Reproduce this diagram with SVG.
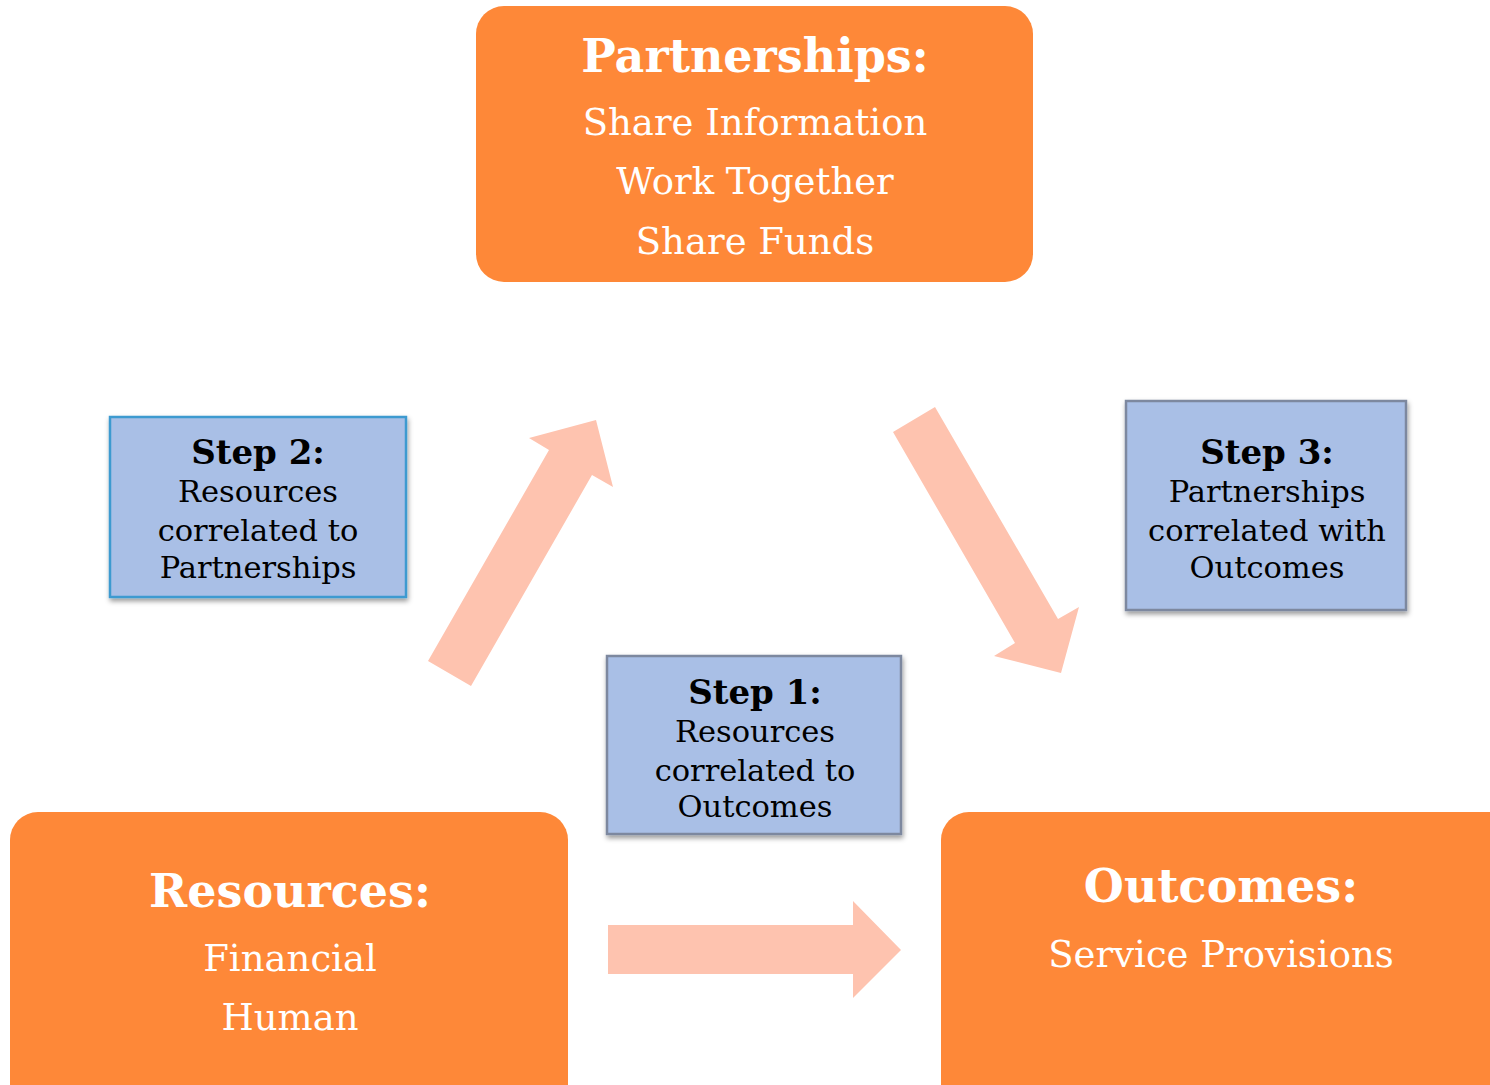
<svg xmlns="http://www.w3.org/2000/svg" width="1490" height="1085" viewBox="0 0 1490 1085">
<defs>
<style>
.big{fill:#FE8838;}
.step{fill:#A9BFE6;stroke-width:2.5;}
.arrow{fill:#FEC3AF;}
text{font-family:"DejaVu Serif","Liberation Serif",serif;text-anchor:middle;}
.wt{fill:#FFFFFF;}
.h1{font-size:46px;font-weight:bold;}
.b1{font-size:37px;}
.sh{font-size:34px;font-weight:bold;fill:#000;}
.sb{font-size:30.5px;fill:#000;}
</style>
<filter id="sh" x="-10%" y="-10%" width="130%" height="130%">
<feDropShadow dx="1" dy="3" stdDeviation="2.5" flood-color="#000" flood-opacity="0.4"/>
</filter>
</defs>
<rect width="1490" height="1085" fill="#FFFFFF"/>
<g id="connectors">
<polygon class="arrow" points="608,925 853,925 853,901 901,950 853,998 853,974 608,974"/>
<polygon class="arrow" points="428,661 549,450 529,438 596,420 613,487 592,475 471,686"/>
<polygon class="arrow" points="893,432 1015,643 994,656 1061,673 1079,607 1058,619 935,407"/>
</g>
<g id="partnerships">
<rect class="big" x="476" y="6" width="557" height="276" rx="28"/>
<text class="wt h1" x="755" y="72">Partnerships:</text>
<text class="wt b1" x="755" y="135">Share Information</text>
<text class="wt b1" x="755" y="194">Work Together</text>
<text class="wt b1" x="755" y="254">Share Funds</text>
</g>
<g id="resources">
<rect class="big" x="10" y="812" width="558" height="300" rx="28"/>
<text class="wt h1" x="290" y="907">Resources:</text>
<text class="wt b1" x="290" y="971">Financial</text>
<text class="wt b1" x="290" y="1030">Human</text>
</g>
<g id="outcomes">
<rect class="big" x="941" y="812" width="580" height="300" rx="28"/>
<text class="wt h1" x="1221" y="902">Outcomes:</text>
<text class="wt b1" x="1221" y="967">Service Provisions</text>
</g>
<g id="step2">
<rect class="step" x="110" y="417" width="296" height="180" stroke="#3E9AD0" filter="url(#sh)"/>
<text class="sh" x="258" y="464">Step 2:</text>
<text class="sb" x="258" y="502">Resources</text>
<text class="sb" x="258" y="541">correlated to</text>
<text class="sb" x="258" y="578">Partnerships</text>
</g>
<g id="step3">
<rect class="step" x="1126" y="401" width="280" height="209" stroke="#7D889F" filter="url(#sh)"/>
<text class="sh" x="1267" y="464">Step 3:</text>
<text class="sb" x="1267" y="502">Partnerships</text>
<text class="sb" x="1267" y="541">correlated with</text>
<text class="sb" x="1267" y="578">Outcomes</text>
</g>
<g id="step1">
<rect class="step" x="607" y="656" width="294" height="178" stroke="#7D889F" filter="url(#sh)"/>
<text class="sh" x="755" y="704">Step 1:</text>
<text class="sb" x="755" y="742">Resources</text>
<text class="sb" x="755" y="781">correlated to</text>
<text class="sb" x="755" y="817">Outcomes</text>
</g>
</svg>
